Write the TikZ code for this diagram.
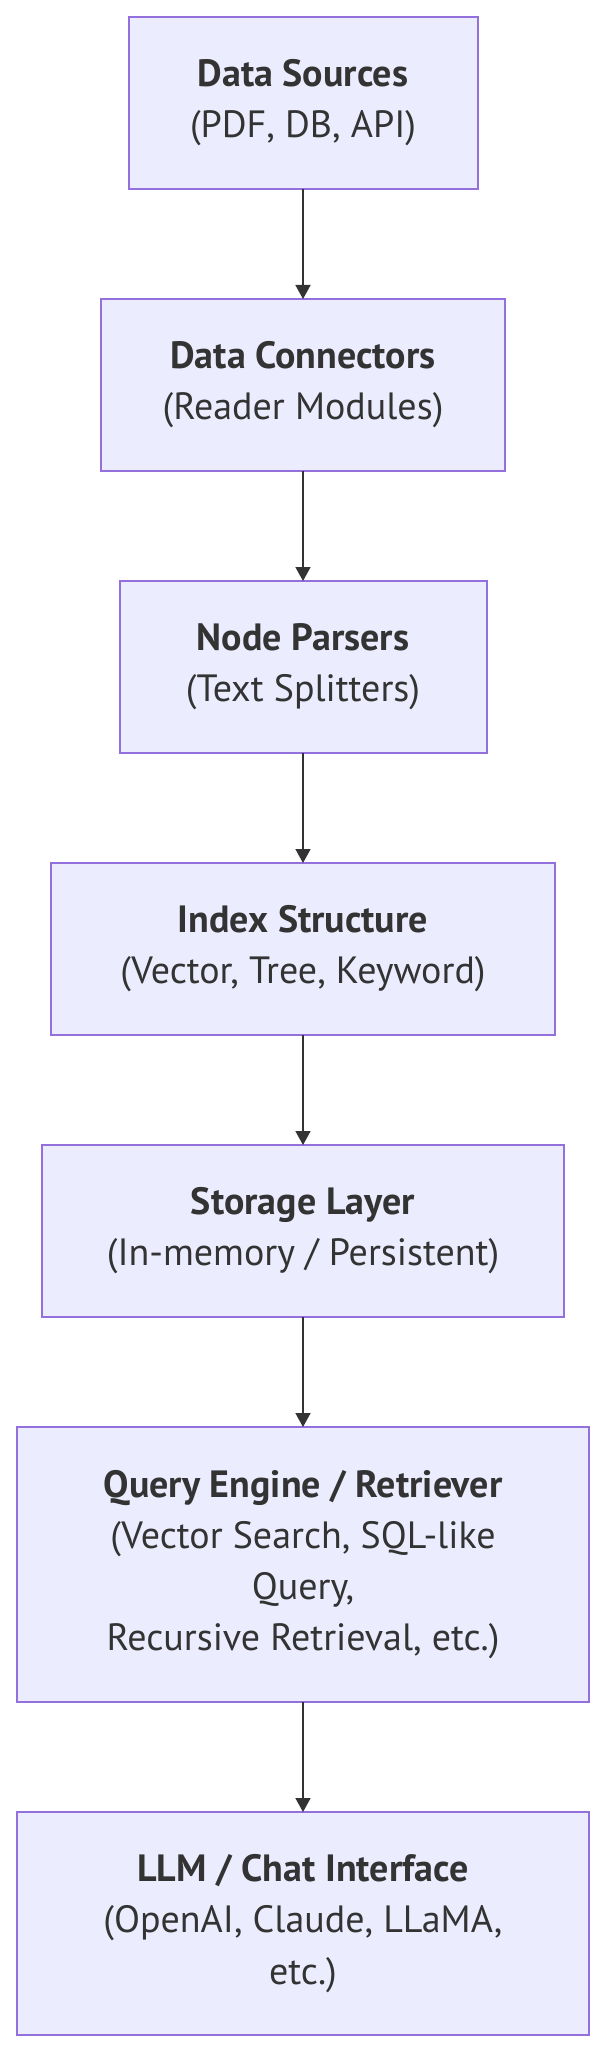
\documentclass[tikz,border=0pt]{standalone}
\usepackage{fontspec}
\setmainfont{PT Sans}
\usetikzlibrary{positioning,arrows.meta}
\definecolor{boxfill}{HTML}{ECECFF}
\definecolor{boxline}{HTML}{9370DB}
\definecolor{ink}{HTML}{333333}

\begin{document}
\begin{tikzpicture}[
	stage/.style={draw=boxline, fill=boxfill, line width=1pt, align=center,
		text=ink, font=\fontsize{19}{25.6}\selectfont, inner sep=0pt, outer sep=0pt},
	flow/.style={draw=ink, line width=0.8pt, -{Triangle[length=7pt,width=7.5pt]}},
	node distance=55pt]
			% page frame
			\useasboundingbox (0,0) rectangle (303.5pt,-1027pt);
			\node[stage, minimum width=174.5pt, minimum height=86pt, anchor=north] (src) at (151.5pt,-8.5pt)
				{\textbf{Data Sources}\\(PDF, DB, API)};
			\node[stage, minimum width=202pt, minimum height=86pt, below=of src] (conn)
				{\textbf{Data Connectors}\\(Reader Modules)};
			\node[stage, minimum width=183.5pt, minimum height=86pt, below=of conn] (parse)
				{\textbf{Node Parsers}\\(Text Splitters)};
			\node[stage, minimum width=252pt, minimum height=86pt, below=of parse] (index)
				{\textbf{Index Structure}\\(Vector, Tree, Keyword)};
			\node[stage, minimum width=261pt, minimum height=86pt, below=of index] (store)
				{\textbf{Storage Layer}\\(In-memory / Persistent)};
			\node[stage, minimum width=286pt, minimum height=137.5pt, below=of store] (query)
				{\textbf{Query Engine / Retriever}\\(Vector Search, SQL-like\\Query,\\Recursive Retrieval, etc.)};
			\node[stage, minimum width=286pt, minimum height=111.5pt, below=of query] (llm)
				{\textbf{LLM / Chat Interface}\\(OpenAI, Claude, LLaMA,\\etc.)};
			
			% connectors
			\draw[flow] (src) -- (conn);
			\draw[flow] (conn) -- (parse);
			\draw[flow] (parse) -- (index);
			\draw[flow] (index) -- (store);
			\draw[flow] (store) -- (query);
			\draw[flow] (query) -- (llm);
\end{tikzpicture}
\end{document}
